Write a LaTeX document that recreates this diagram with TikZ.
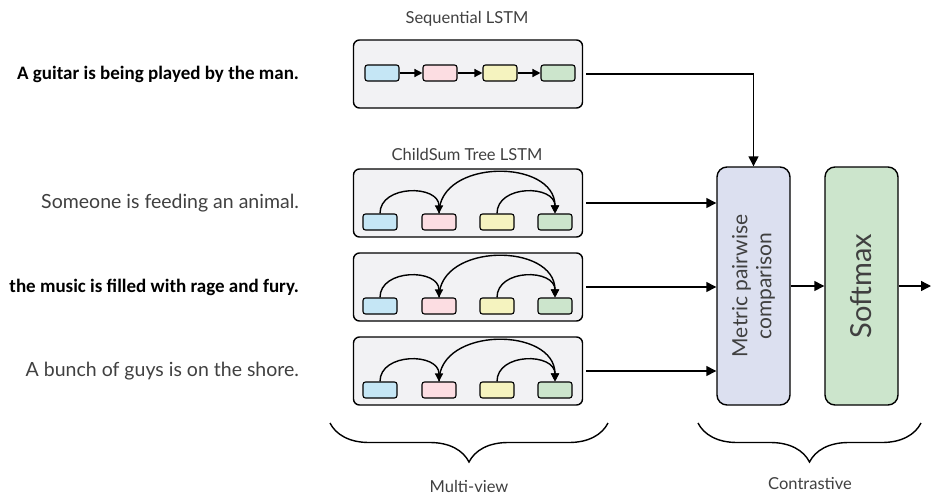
\documentclass[tikz,border=0pt]{standalone}
\usepackage{fontspec}
\setmainfont{Lato}
\newfontfamily\calib{Carlito}
\newfontfamily\thin{Lato}
\usepackage{tikz}
\usetikzlibrary{arrows.meta,decorations.pathreplacing}

\definecolor{boxgray}{HTML}{F2F2F4}
\definecolor{cblue}{HTML}{C5E6F5}
\definecolor{cpink}{HTML}{FCDDE2}
\definecolor{cyellow}{HTML}{F5F3BF}
\definecolor{cgreen}{HTML}{CCE5CC}
\definecolor{metblue}{HTML}{DCE0F0}
\definecolor{txtgray}{HTML}{404040}

\begin{document}
\begin{tikzpicture}[x=1pt,y=-1pt,line width=1.4pt,
  lstmbox/.style={draw,rounded corners=6pt,fill=boxgray,minimum width=229pt,minimum height=68pt},
  cell/.style={draw,rounded corners=2.5pt,minimum width=34pt,minimum height=16pt,inner sep=0pt,line width=1.1pt},
  bigbox/.style={draw,rounded corners=10pt,minimum width=73pt,minimum height=238pt},
  arr/.style={-{Triangle[length=10pt,width=10pt]}},
  smallarr/.style={-{Triangle[length=8pt,width=8pt]}},
  sent/.style={anchor=east,font=\thin\fontsize{19.5}{22}\selectfont,text=txtgray},
  boldsent/.style={anchor=east,font=\calib\bfseries\fontsize{19}{22}\selectfont},
  caption/.style={font=\fontsize{16.5}{19}\selectfont,text=txtgray},
  brc/.style={decorate,decoration={brace,mirror,amplitude=39pt}}]
\useasboundingbox (0,0) rectangle (932,493);

% sequential LSTM
\node[caption] (seqlab) at (467,19) {Sequential LSTM};
\node[lstmbox] (seq) at (468,74) {};
\node[cell,fill=cblue] (s1) at (382,73) {};
\node[cell,fill=cpink] (s2) at (440,73) {};
\node[cell,fill=cyellow] (s3) at (500,73) {};
\node[cell,fill=cgreen] (s4) at (558,73) {};
\draw[smallarr] (s1) -- (s2);
\draw[smallarr] (s2) -- (s3);
\draw[smallarr] (s3) -- (s4);

% tree LSTMs
\node[caption] (treelab) at (467,154) {ChildSum Tree LSTM};
\foreach \i/\y in {1/203,2/287,3/371}{
  \node[lstmbox] (t\i) at (468,\y) {};
  \node[cell,fill=cblue] (t\i c1) at (380,\y+19) {};
  \node[cell,fill=cpink] (t\i c2) at (439,\y+19) {};
  \node[cell,fill=cyellow] (t\i c3) at (497,\y+19) {};
  \node[cell,fill=cgreen] (t\i c4) at (555,\y+19) {};
  \draw[smallarr] (t\i c1.north) .. controls +(0,-29) and +(0,-29) .. (t\i c2.north);
  \draw[smallarr] (t\i c3.north) .. controls +(0,-29) and +(0,-29) .. (t\i c4.north);
  \draw[smallarr] (t\i c2.north) .. controls +(0,-55) and +(0,-55) .. (t\i c4.north);
}

% sentences
\node[boldsent] (sa) at (303,74) {A guitar is being played by the man.};
\node[sent] (sb) at (303,203) {Someone is feeding an animal.};
\node[boldsent] (sc) at (303,287) {the music is filled with rage and fury.};
\node[sent] (sd) at (303,371) {A bunch of guys is on the shore.};

% comparison and softmax
\node[bigbox,fill=metblue] (met) at (753.5,286) {};
\node[rotate=90,align=center,font=\thin\fontsize{21}{24}\selectfont,text=txtgray] (metlab) at (met.center) {Metric pairwise\\comparison};
\node[bigbox,fill=cgreen] (soft) at (861.5,286) {};
\node[rotate=90,font=\thin\fontsize{29}{32}\selectfont,text=txtgray] (softlab) at (soft.center) {Softmax};
\coordinate (out) at (931,286);

\draw[arr,shorten <=3pt] (seq.east) -| (met.north);
\foreach \i in {1,2,3}
  \draw[arr,shorten <=3pt] (t\i.east) -- (t\i.east -| met.west);
\draw[arr] (met.east) -- (soft.west);
\draw[arr] (soft.east) -- (out);

% braces
\coordinate (b1) at (330,423);
\coordinate (b2) at (608,423);
\coordinate (b3) at (698,423);
\coordinate (b4) at (921,423);
\draw[brc] (b1) -- (b2);
\draw[brc] (b3) -- (b4);
\node[caption] (mv) at (469,486) {Multi-view};
\node[caption] (ct) at (810,484) {Contrastive};
\end{tikzpicture}
\end{document}
